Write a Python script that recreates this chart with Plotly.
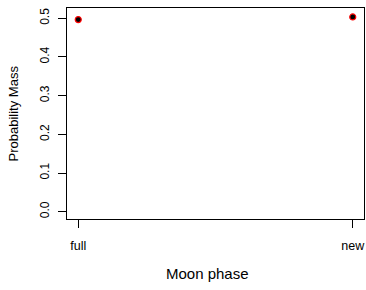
import plotly.graph_objects as go

phases = ["full", "new"]
prob_mass = [0.4966, 0.5034]
x_pos = [1, 2]
y_ticks = [0.0, 0.1, 0.2, 0.3, 0.4, 0.5]
y_tick_labels = ["0.0", "0.1", "0.2", "0.3", "0.4", "0.5"]
x_title = "Moon phase"
y_title = "Probability Mass"

fig = go.Figure()
fig.add_trace(go.Scatter(
    x=x_pos, y=prob_mass, mode="markers", cliponaxis=False,
    marker=dict(size=6, color="black", line=dict(color="red", width=1.2)),
    showlegend=False, hoverinfo="skip",
))

font = dict(family="Liberation Sans, Arial, sans-serif", size=12, color="black")
fig.update_layout(
    width=366, height=290,
    margin=dict(l=67, r=2, t=8, b=71),
    paper_bgcolor="white", plot_bgcolor="white",
    font=font,
)
fig.update_xaxes(
    range=[0.959, 2.041], tickvals=x_pos, ticktext=phases,
    automargin=False, tickfont=dict(size=12.5),
    showgrid=False, zeroline=False,
    showline=True, linecolor="black", linewidth=1, mirror=True,
    ticks="outside", ticklen=8, tickcolor="black", tickwidth=1,
    ticklabelstandoff=7,
)
fig.update_yaxes(
    range=[-0.0189, 0.5266], tickvals=y_ticks, ticktext=y_tick_labels,
    tickangle=-90, automargin=False,
    showgrid=False, zeroline=False,
    showline=True, linecolor="black", linewidth=1, mirror=True,
    ticks="outside", ticklen=8, tickcolor="black", tickwidth=1,
    ticklabelstandoff=4,
)
fig.add_annotation(
    text=x_title, xref="paper", yref="paper", x=0.4747, y=-0.256,
    xanchor="center", yanchor="middle", showarrow=False, font=dict(size=15),
)
fig.add_annotation(
    text=y_title, xref="paper", yref="paper", x=-0.1785, y=0.5,
    xanchor="center", yanchor="middle", textangle=-90, showarrow=False,
    font=dict(size=13),
)
fig.write_html(
    "out.html",
    config={"displayModeBar": False},
    post_script="document.body.style.margin='0';document.body.style.overflow='hidden';",
)
